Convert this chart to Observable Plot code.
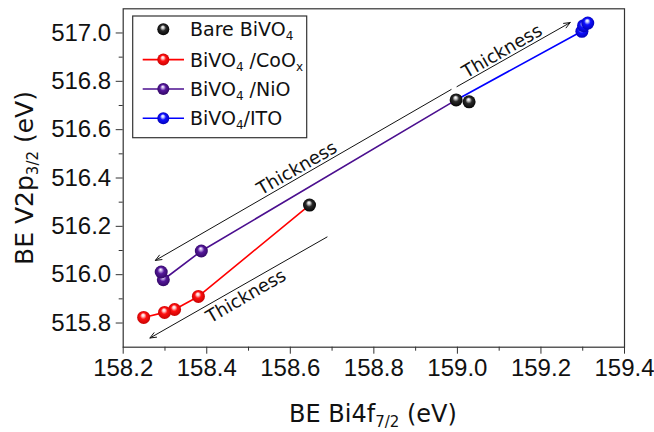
<!DOCTYPE html>
<html>
<head>
<meta charset="utf-8">
<script src="https://cdn.jsdelivr.net/npm/d3@7"></script>
<script src="https://cdn.jsdelivr.net/npm/@observablehq/plot@0.6"></script>
<style>
  html, body { margin: 0; padding: 0; background: #fff; }
</style>
</head>
<body>
<div id="chart"></div>
<script>
// ---- data ----
const xTicks = [158.2, 158.4, 158.6, 158.8, 159.0, 159.2, 159.4];
const xMinor = [158.3, 158.5, 158.7, 158.9, 159.1, 159.3];
const yTicks = [515.8, 516.0, 516.2, 516.4, 516.6, 516.8, 517.0];
const yMinor = [515.9, 516.1, 516.3, 516.5, 516.7, 516.9];

const bareX = [158.646, 158.997, 159.028];
const bareY = [516.288, 516.723, 516.715];

const cooxX = [158.380, 158.323, 158.299, 158.249];
const cooxY = [515.910, 515.856, 515.844, 515.823];

const nioX = [158.387, 158.296, 158.291];
const nioY = [516.098, 515.979, 516.011];

const itoX = [159.298, 159.302, 159.312];
const itoY = [517.007, 517.030, 517.041];

const seriesNames = ["Bare BiVO4", "BiVO4 /CoOx", "BiVO4 /NiO", "BiVO4/ITO"];
const seriesColors = ["#000000", "#ff0000", "#4b0f8f", "#0000ff"];
// legend label pieces: even index = normal text, odd index = subscript
const legendLabels = [["Bare BiVO", "4"], ["BiVO", "4", " /CoO", "x"], ["BiVO", "4", " /NiO"], ["BiVO", "4", "/ITO"]];

// annotation arrows ("Thickness")
const arrowX1 = [158.985, 158.999, 158.688];
const arrowY1 = [516.766, 516.778, 516.156];
const arrowX2 = [158.277, 159.270, 158.264];
const arrowY2 = [516.059, 517.043, 515.738];
const noteX = [158.616, 159.107, 158.494];
const noteY = [516.440, 516.924, 515.911];
const noteText = ["Thickness", "Thickness", "Thickness"];

// ---- tables ----
const pts = (xs, ys) => xs.map((x, i) => ({x, y: ys[i]}));
const bare = pts(bareX, bareY);
const coox = pts(cooxX, cooxY);
const nio = pts(nioX, nioY);
const ito = pts(itoX, itoY);
const cooxLine = [bare[0], ...coox];
const nioLine = [bare[1], ...nio];
const itoLine = [bare[1], ...ito];
const arrows = arrowX1.map((x1, i) => ({x1, y1: arrowY1[i], x2: arrowX2[i], y2: arrowY2[i]}));
const notes = noteX.map((x, i) => ({x, y: noteY[i], t: noteText[i]}));

const gradIds = ["g-black", "g-red", "g-purple", "g-blue"];
const grad = i => `url(#${gradIds[i]})`;

const tickFont = "Liberation Sans, Arial, sans-serif";
const labelFont = "DejaVu Sans, Verdana, sans-serif";

const chart = Plot.plot({
  width: 654,
  height: 432,
  marginLeft: 122.7,
  marginRight: 30,
  marginTop: 8.3,
  marginBottom: 85.3,
  style: {fontFamily: labelFont, background: "#fff", color: "#222"},
  x: {domain: [158.2, 159.4], label: null},
  y: {domain: [515.7, 517.1], label: null},
  marks: [
    Plot.axisX(xTicks, {tickSize: 7, tickPadding: 5, fontSize: 24, fontFamily: tickFont, tickFormat: d => d.toFixed(1), stroke: "#333", fill: "#111"}),
    Plot.axisX(xMinor, {tickSize: 4, fill: "none", stroke: "#333"}),
    Plot.axisY(yTicks, {tickSize: 7, tickPadding: 5, fontSize: 24, fontFamily: tickFont, tickFormat: d => d.toFixed(1), stroke: "#333", fill: "#111"}),
    Plot.axisY(yMinor, {tickSize: 4, fill: "none", stroke: "#333"}),
    Plot.frame({stroke: "#333", strokeWidth: 1.2}),
    Plot.arrow(arrows, {x1: "x1", y1: "y1", x2: "x2", y2: "y2", stroke: "#111", strokeWidth: 1, headLength: 10, headAngle: 45}),
    Plot.text(notes, {x: "x", y: "y", text: "t", rotate: -30, fontSize: 18, fontFamily: labelFont, fill: "#111"}),
    Plot.line(cooxLine, {x: "x", y: "y", stroke: seriesColors[1], strokeWidth: 1.6}),
    Plot.line(nioLine, {x: "x", y: "y", stroke: seriesColors[2], strokeWidth: 1.6}),
    Plot.line(itoLine, {x: "x", y: "y", stroke: seriesColors[3], strokeWidth: 1.6}),
    Plot.dot(coox, {x: "x", y: "y", r: 6.5, fill: grad(1)}),
    Plot.dot(nio, {x: "x", y: "y", r: 6.5, fill: grad(2)}),
    Plot.dot(ito, {x: "x", y: "y", r: 6.5, fill: grad(3)}),
    Plot.dot(bare, {x: "x", y: "y", r: 6.5, fill: grad(0)})
  ]
});

const svg = d3.select(chart);

// sphere-like shading gradients
const defs = svg.insert("defs", ":first-child");
const gradStops = [
  ["#d0d0d0", "#2a2a2a", "#000000"],
  ["#ffd0d0", "#ff1010", "#c00000"],
  ["#c8b0ea", "#55189a", "#2e0660"],
  ["#c8d0ff", "#1010ff", "#0000b0"]
];
gradIds.forEach((id, i) => {
  const g = defs.append("radialGradient").attr("id", id)
    .attr("cx", "0.5").attr("cy", "0.5").attr("r", "0.55")
    .attr("fx", "0.45").attr("fy", "0.3");
  g.append("stop").attr("offset", "0").attr("stop-color", "#ffffff");
  g.append("stop").attr("offset", "0.18").attr("stop-color", gradStops[i][0]);
  g.append("stop").attr("offset", "0.45").attr("stop-color", gradStops[i][1]);
  g.append("stop").attr("offset", "1").attr("stop-color", gradStops[i][2]);
});

// rich text helper (subscripts)
function rich(sel, parts, size, subSize, shift) {
  parts.forEach((p, i) => {
    if (!p) return;
    const t = sel.append("tspan").text(p);
    if (i % 2 === 1) {
      t.attr("font-size", subSize).attr("dy", shift);
    } else {
      t.attr("font-size", size);
      if (i > 0) t.attr("dy", -shift);
    }
  });
}

// axis titles
const xt = svg.append("text")
  .attr("x", 373).attr("y", 421.5)
  .attr("text-anchor", "middle")
  .attr("font-family", labelFont).attr("fill", "#111");
rich(xt, ["BE Bi4f", "7/2", " (eV)"], 24, 15, 5);

const yt = svg.append("text")
  .attr("transform", "translate(33,178) rotate(-90)")
  .attr("text-anchor", "middle")
  .attr("font-family", labelFont).attr("fill", "#111");
rich(yt, ["BE V2p", "3/2", " (eV)"], 25, 15, 5);

// legend
const lg = svg.append("g");
lg.append("rect").attr("x", 132.7).attr("y", 16).attr("width", 174).attr("height", 121.7)
  .attr("fill", "#fff").attr("stroke", "#333").attr("stroke-width", 1.2);
const rowY = [29.3, 59.6, 89, 118.3];
legendLabels.forEach((parts, i) => {
  const y = rowY[i];
  if (i > 0) {
    lg.append("line").attr("x1", 142.7).attr("x2", 184).attr("y1", y).attr("y2", y)
      .attr("stroke", seriesColors[i]).attr("stroke-width", 1.6);
  }
  lg.append("circle").attr("cx", 163.3).attr("cy", y).attr("r", 6).attr("fill", grad(i));
  const t = lg.append("text").attr("x", 190).attr("y", y + 7)
    .attr("text-anchor", "start")
    .attr("font-family", labelFont).attr("fill", "#111");
  rich(t, parts, 19, 12, 4);
});

document.getElementById("chart").appendChild(chart);
</script>
</body>
</html>
